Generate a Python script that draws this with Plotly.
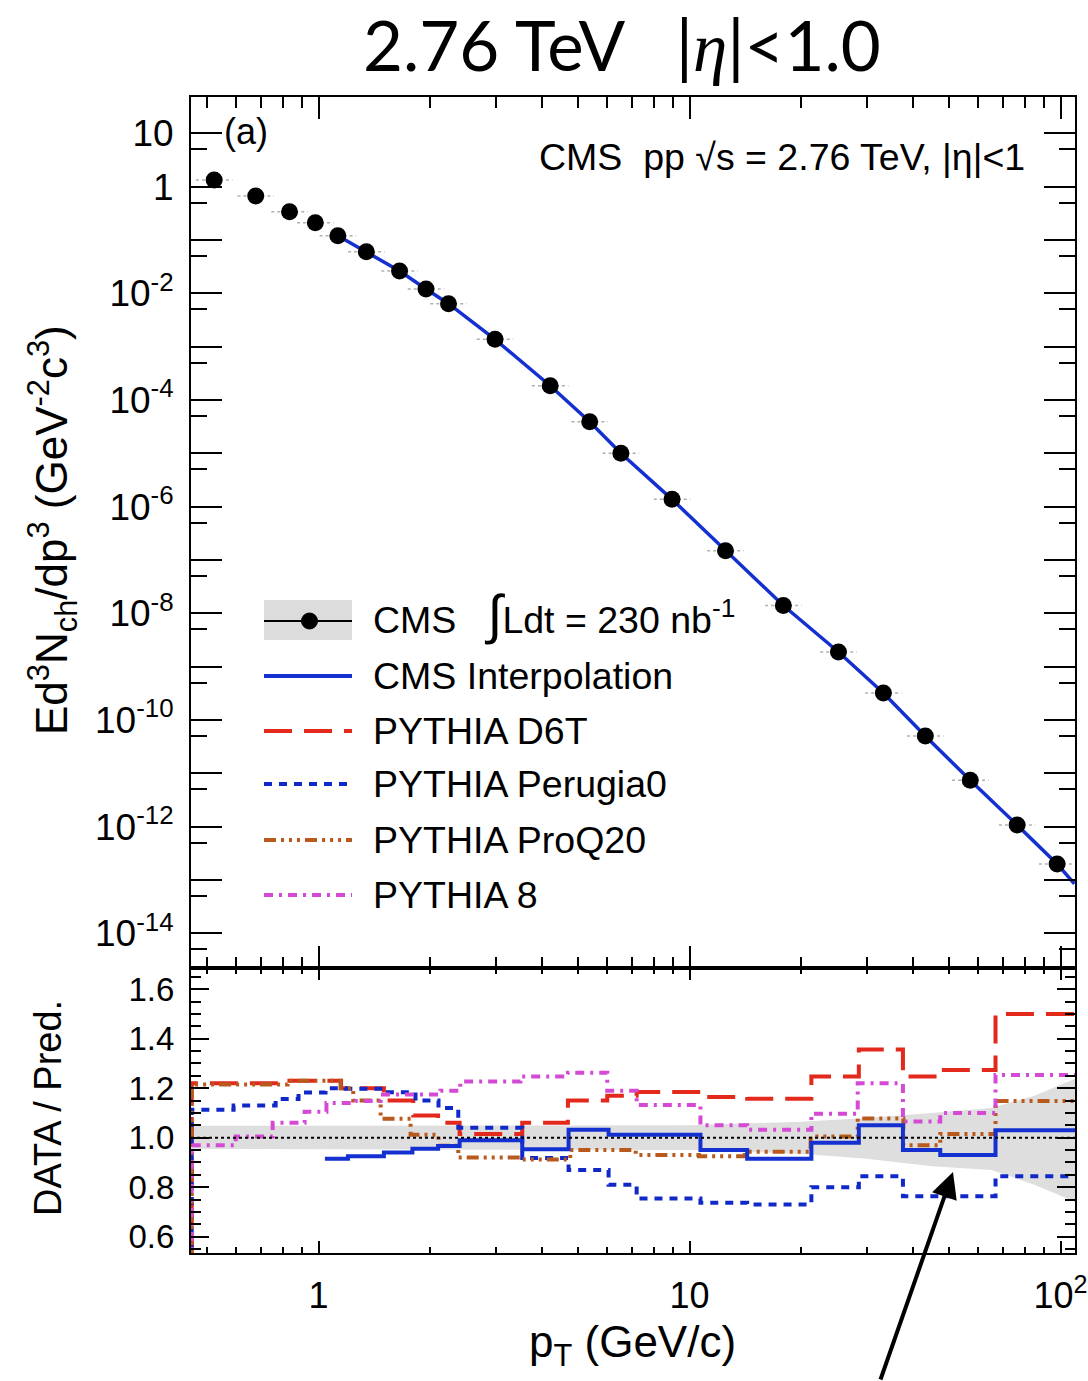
import plotly.graph_objects as go
import math

# ---------------- data ----------------
# Upper panel: CMS charged-particle spectrum
data_pt = [0.523, 0.677, 0.835, 0.98, 1.127, 1.345, 1.653, 1.948, 2.24, 2.99, 4.21,
           5.38, 6.53, 8.97, 12.5, 17.9, 25.2, 33.3, 43.2, 57.1, 76.4, 97.9]
data_val = [1.33, 0.667, 0.339, 0.211, 0.120, 0.0603, 0.0262, 0.01205, 0.00638, 0.00137,
            1.85e-4, 3.9e-5, 1.0e-5, 1.37e-6, 1.49e-7, 1.4e-8, 1.88e-9, 3.2e-10,
            5.0e-11, 7.4e-12, 1.07e-12, 2.0e-13]

# CMS interpolation curve
interp_pt = [1.127, 1.345, 1.653, 1.948, 2.24, 2.99, 4.21, 5.38, 6.53, 8.97, 12.5, 17.9,
             25.2, 33.3, 43.2, 57.1, 76.4, 97.9, 109]
interp_val = [0.120, 0.0603, 0.0262, 0.01205, 0.00638, 0.00137, 1.85e-4, 3.9e-5, 1.0e-5,
              1.37e-6, 1.49e-7, 1.4e-8, 1.88e-9, 3.2e-10, 5.0e-11, 7.4e-12, 1.07e-12,
              2.0e-13, 8.5e-14]

# Lower panel: DATA / Pred. step histograms (bin edges, bin contents)
interp_edges = [1.04, 1.2, 1.5, 1.79, 2.1, 2.4, 3.54, 4.72, 6.05, 10.7, 14.3, 21.3, 28.6,
                37.6, 47.4, 66.8, 110]
interp_ratio = [0.915, 0.925, 0.94, 0.955, 0.967, 0.99, 0.953, 1.032, 1.012, 0.95, 0.915,
                0.98, 1.05, 0.95, 0.93, 1.03]

d6t_edges = [0.455, 0.82, 1.15, 1.5, 1.8, 2.1, 2.4, 3.54, 4.7, 6.0, 7.2, 10.7, 14.3, 21.3,
             28.6, 37.6, 47.4, 66.8, 110]
d6t_ratio = [1.22, 1.23, 1.20, 1.15, 1.09, 1.06, 1.015, 1.06, 1.15, 1.17, 1.185, 1.165,
             1.157, 1.247, 1.357, 1.247, 1.274, 1.50]

perugia_edges = [0.455, 0.59, 0.766, 0.883, 1.044, 1.182, 1.487, 1.825, 2.105, 2.38, 3.54,
                 4.72, 6.05, 7.2, 10.7, 14.3, 21.3, 28.6, 37.6, 66.8, 110]
perugia_ratio = [1.113, 1.13, 1.156, 1.183, 1.20, 1.198, 1.184, 1.15, 1.12, 1.04, 0.918,
                 0.87, 0.81, 0.754, 0.737, 0.73, 0.80, 0.844, 0.763, 0.844]

proq20_edges = [0.455, 0.825, 1.146, 1.24, 1.47, 1.77, 2.105, 2.38, 3.54, 4.77, 7.16, 10.6,
                14.1, 21.2, 28.4, 37.7, 47.4, 66.8, 110]
proq20_ratio = [1.215, 1.23, 1.20, 1.15, 1.077, 1.012, 0.968, 0.92, 0.912, 0.95, 0.93,
                0.925, 0.943, 1.005, 1.078, 0.97, 1.015, 1.148]

py8_edges = [0.455, 0.598, 0.752, 0.917, 1.05, 1.26, 1.47, 2.13, 2.41, 3.5, 4.7, 6.0, 7.2,
             10.7, 14.3, 21.3, 28.4, 37.6, 47.4, 66.8, 110]
py8_ratio = [0.97, 1.005, 1.06, 1.105, 1.14, 1.148, 1.175, 1.19, 1.227, 1.247, 1.263, 1.19,
             1.132, 1.05, 1.032, 1.097, 1.22, 1.066, 1.10, 1.254]

# data uncertainty band in the ratio panel
band_pt = [0.453, 10, 20, 30, 45, 65, 85, 110]
band_hi = [1.048, 1.05, 1.065, 1.08, 1.10, 1.12, 1.17, 1.24]
band_lo = [0.955, 0.95, 0.935, 0.915, 0.885, 0.87, 0.81, 0.74]

# axis ticks
x_major = [1, 10, 100]
x_major_text = ["1", "10", "10<sup>2</sup>"]
x_minor = [0.5, 0.6, 0.7, 0.8, 0.9, 2, 3, 4, 5, 6, 7, 8, 9, 20, 30, 40, 50, 60, 70, 80, 90]
y_exps = list(range(1, -15, -1))
y_labeled = {1: "10", 0: "1"}
y2_major = [0.6, 0.8, 1.0, 1.2, 1.4, 1.6]
y2_major_text = ["0.6", "0.8", "1.0", "1.2", "1.4", "1.6"]

# ---------------- figure geometry ----------------
W, H = 1088, 1381
L, R, T, B = 191, 1075, 97, 1253
SPLIT = 968


def pxx(x):
    return (x - L) / (R - L)


def pxy(y):
    return (B - y) / (B - T)


FONT = "Liberation Sans, Arial, sans-serif"
RED = "#e3281c"
BLUE = "#1530d0"
DBLUE = "#1028c8"
BROWN = "#b85a1c"
PINK = "#d54ad5"

fig = go.Figure()

# ---- upper panel ----
ex, ey = [], []
for x, v in zip(data_pt, data_val):
    ex += [x / 1.12, x * 1.12, None]
    ey += [v, v, None]
fig.add_trace(go.Scatter(x=ex, y=ey, mode="lines", line=dict(color="#b0b0b0", width=1.5, dash="dot"),
                         xaxis="x", yaxis="y", showlegend=False, hoverinfo="skip"))
fig.add_trace(go.Scatter(x=interp_pt, y=interp_val, mode="lines", line=dict(color=BLUE, width=3.5),
                         xaxis="x", yaxis="y", showlegend=False))
fig.add_trace(go.Scatter(x=data_pt, y=data_val, mode="markers",
                         marker=dict(color="black", size=17, symbol="circle"),
                         xaxis="x", yaxis="y", showlegend=False))

# ---- lower panel ----
fig.add_trace(go.Scatter(x=band_pt + band_pt[::-1], y=band_hi + band_lo[::-1], fill="toself",
                         fillcolor="#dedede", line=dict(width=0), mode="lines",
                         xaxis="x2", yaxis="y2", showlegend=False, hoverinfo="skip"))


def step(edges, vals, from_zero=True):
    xs = list(edges)
    ys = list(vals) + [vals[-1]]
    if from_zero:
        xs = [edges[0]] + xs
        ys = [0] + ys
    return xs, ys


series = [
    (d6t_edges, d6t_ratio, RED, "28px,12px", True),
    (perugia_edges, perugia_ratio, DBLUE, "8px,7px", True),
    (proq20_edges, proq20_ratio, BROWN, "12px,5px,3px,5px,3px,5px,3px,5px", True),
    (py8_edges, py8_ratio, PINK, "9px,6px,3px,6px", True),
    (interp_edges, interp_ratio, BLUE, "solid", False),
]
for edges, vals, col, dash, fz in series:
    xs, ys = step(edges, vals, fz)
    fig.add_trace(go.Scatter(x=xs, y=ys, mode="lines", line=dict(color=col, width=4, dash=dash, shape="hv"),
                             xaxis="x2", yaxis="y2", showlegend=False))

# ---------------- axes ----------------
xr = [math.log10(0.453), math.log10(109.4)]
ax_common = dict(type="log", range=xr, showgrid=False, zeroline=False, showline=True,
                 linecolor="black", linewidth=2, mirror="allticks", ticks="inside",
                 tickcolor="black", tickwidth=2, tickvals=x_major, automargin=False)
upper_frac = (B - SPLIT) / (B - T)

fig.update_layout(
    xaxis=dict(**ax_common, domain=[0, 1], anchor="y", matches="x2", showticklabels=False,
               ticklen=22, minor=dict(tickvals=x_minor, ticklen=11, ticks="inside",
                                      tickcolor="black", tickwidth=2)),
    yaxis=dict(type="log", domain=[upper_frac, 1], anchor="x", range=[-14.65, 1.68],
               showgrid=False, zeroline=False, showline=True, linecolor="black", linewidth=2,
               mirror="allticks", ticks="inside", ticklen=31, tickwidth=2, tickcolor="black",
               tickvals=[10.0 ** e for e in y_exps],
               ticktext=[y_labeled.get(e, "10<sup>%d</sup>" % e if e % 2 == 0 else "") for e in y_exps],
               minor=dict(tickvals=[5 * 10.0 ** e for e in range(0, -16, -1)], ticklen=16,
                          ticks="inside", tickcolor="black", tickwidth=2),
               tickfont=dict(family=FONT, size=37, color="black"), ticklabelstandoff=8),
    xaxis2=dict(**ax_common, domain=[0, 1], anchor="y2", ticklen=12, ticktext=x_major_text,
                minor=dict(tickvals=x_minor, ticklen=6, ticks="inside", tickcolor="black", tickwidth=2),
                tickfont=dict(family=FONT, size=36, color="black"), ticklabelstandoff=10),
    yaxis2=dict(domain=[0, upper_frac], anchor="x2", range=[0.534, 1.686], showgrid=False,
                zeroline=False, showline=True, linecolor="black", linewidth=2, mirror="allticks",
                ticks="inside", ticklen=18, tickwidth=2, tickcolor="black",
                tickvals=y2_major, ticktext=y2_major_text,
                minor=dict(dtick=0.05, ticklen=10, ticks="inside", tickcolor="black", tickwidth=2),
                tickfont=dict(family=FONT, size=33, color="black"), ticklabelstandoff=8),
    width=W, height=H, margin=dict(l=L, r=W - R, t=T, b=H - B, pad=0, autoexpand=False),
    plot_bgcolor="white", paper_bgcolor="white", showlegend=False,
)

# reference line at ratio 1
fig.add_shape(type="line", xref="x2 domain", x0=0, x1=1, yref="y2", y0=1, y1=1,
              line=dict(color="black", width=2, dash="dot"), layer="above")

# ---------------- text ----------------
ann = []


def text(t, x, y, size, xanchor="center", family=FONT, angle=0):
    ann.append(dict(text=t, x=pxx(x), y=pxy(y), xref="paper", yref="paper", xanchor=xanchor,
                    yanchor="middle", textangle=angle, showarrow=False,
                    font=dict(family=family, size=size, color="black")))


text("2.76 TeV   |<span style='font-family:Liberation Serif'><i>η</i></span>|<1.0", 622, 44, 69,
     family="Lato, sans-serif")
text("(a)", 222, 132, 36, xanchor="left")
text("CMS  pp √s = 2.76 TeV, |η|<1", 537, 157, 37.5, xanchor="left")
text("Ed<sup>3</sup>N<sub>ch</sub>/dp<sup>3</sup> (GeV<sup>-2</sup>c<sup>3</sup>)", 52, 530, 44, angle=-90)
text("DATA / Pred.", 48, 1108, 38, angle=-90)
text("p<sub>T</sub> (GeV/c)", 632, 1345, 44)
# arrow
ann.append(dict(text="", x=pxx(953), y=pxy(1172), xref="paper", yref="paper", showarrow=True,
                ax=-73, ay=230, arrowhead=2, arrowsize=1.3, arrowwidth=4, arrowcolor="black"))

# ---------------- legend (drawn in the upper panel) ----------------
leg_names = ["CMS Interpolation", "PYTHIA D6T", "PYTHIA Perugia0", "PYTHIA ProQ20", "PYTHIA 8"]
leg_rows = [676, 731, 784, 840, 895]
leg_styles = [(BLUE, "solid"), (RED, "28px,12px"), (DBLUE, "8px,7px"),
              (BROWN, "12px,5px,3px,5px,3px,5px,3px,5px"), (PINK, "9px,6px,3px,6px")]
shapes = []
shapes.append(dict(type="rect", xref="paper", yref="paper", x0=pxx(264), x1=pxx(352),
                   y0=pxy(640), y1=pxy(600), fillcolor="#dcdcdc", line=dict(width=0)))
shapes.append(dict(type="line", xref="paper", yref="paper", x0=pxx(264), x1=pxx(352),
                   y0=pxy(621), y1=pxy(621), line=dict(color="black", width=2)))
shapes.append(dict(type="circle", xref="paper", yref="paper", x0=pxx(301.5), x1=pxx(317.5),
                   y0=pxy(629), y1=pxy(613), fillcolor="black", line=dict(color="black", width=1)))
text("CMS   <span style='font-size:54px'>∫</span>Ldt = 230 nb<sup>-1</sup>", 371, 614, 37.5, xanchor="left")
for name, row, (col, dash) in zip(leg_names, leg_rows, leg_styles):
    shapes.append(dict(type="line", xref="paper", yref="paper", x0=pxx(264), x1=pxx(352),
                       y0=pxy(row), y1=pxy(row), line=dict(color=col, width=4, dash=dash)))
    text(name, 371, row, 37.5, xanchor="left")

for s in shapes:
    fig.add_shape(**s)
fig.update_layout(annotations=ann)

fig.write_html("out.html")
